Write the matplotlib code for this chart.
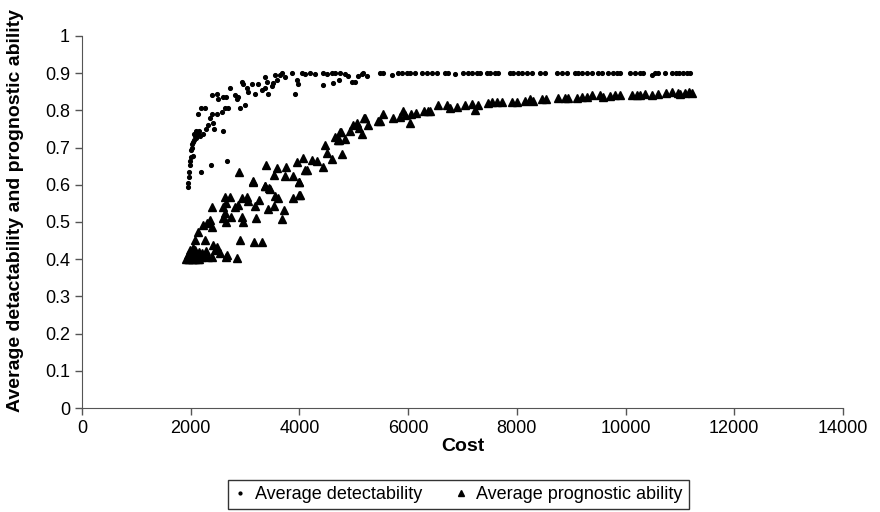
import numpy as np
import matplotlib
matplotlib.use('Agg')
import matplotlib.pyplot as plt
from matplotlib.ticker import FuncFormatter

plt.rcParams['font.family'] = ['Liberation Sans', 'DejaVu Sans']

# Average detectability (dots)
det_cost = [1950, 1960, 1970, 1975, 1985, 1990, 2000, 2010, 2020, 2030, 2036, 2040, 2060, 2080, 2100, 2130,
            2060, 2100, 2160, 2180, 2190, 2373, 2662, 2600, 2230, 2280, 2320, 2410, 2430, 2350, 2130, 2200,
            2260, 2390, 2480, 2580, 2630, 2690, 2390, 2480, 2500, 2590, 2660, 2720, 2810, 2870, 2850, 2910,
            3000, 2940, 2960, 3030, 3050, 3130, 3180, 3240, 3310, 3370, 3420, 3370, 3400, 3490, 3510, 3550,
            3590, 3640, 3680, 3730, 3860, 3920, 3950, 3970, 4041, 4102, 4194, 4286, 4428, 4439, 4501, 4593,
            4623, 4654, 4734, 4746, 4838, 4899, 4961, 5022, 5083, 5145, 5175, 5236, 5481, 5542, 5696, 5818,
            5880, 5972, 6033, 6126, 6249, 6341, 6433, 6525, 6678, 6739, 6862, 7015, 7107, 7169, 7261, 7322,
            7445, 7506, 7598, 7659, 7874, 7935, 8027, 8089, 8181, 8273, 8425, 8517, 8732, 8824, 8916, 9069,
            9130, 9192, 9284, 9376, 9498, 9560, 9682, 9774, 9836, 9897, 10081, 10173, 10265, 10326, 10480,
            10541, 10602, 10725, 10850, 10930, 10990, 11060, 11130, 11190]
det_value = [0.594, 0.605, 0.62, 0.634, 0.653, 0.665, 0.675, 0.693, 0.70, 0.71, 0.676, 0.715, 0.72, 0.73, 0.725, 0.74,
             0.735, 0.745, 0.745, 0.73, 0.634, 0.653, 0.664, 0.745, 0.735, 0.75, 0.76, 0.765, 0.75, 0.78, 0.79, 0.805,
             0.805, 0.79, 0.79, 0.795, 0.805, 0.805, 0.84, 0.845, 0.83, 0.835, 0.835, 0.86, 0.84, 0.835, 0.83, 0.805,
             0.815, 0.875, 0.87, 0.86, 0.85, 0.87, 0.845, 0.87, 0.855, 0.86, 0.845, 0.89, 0.875, 0.865, 0.873, 0.895,
             0.882, 0.895, 0.90, 0.89, 0.90, 0.845, 0.882, 0.87, 0.90, 0.897, 0.90, 0.897, 0.868, 0.90, 0.897, 0.90,
             0.873, 0.90, 0.882, 0.90, 0.897, 0.891, 0.877, 0.875, 0.891, 0.898, 0.90, 0.891, 0.90, 0.90, 0.895, 0.90,
             0.90, 0.90, 0.90, 0.90, 0.90, 0.90, 0.90, 0.90, 0.90, 0.90, 0.897, 0.90, 0.90, 0.90, 0.90, 0.90,
             0.90, 0.90, 0.90, 0.90, 0.90, 0.90, 0.90, 0.90, 0.90, 0.90, 0.90, 0.90, 0.90, 0.90, 0.90, 0.90,
             0.90, 0.90, 0.90, 0.90, 0.90, 0.90, 0.90, 0.90, 0.90, 0.90, 0.90, 0.90, 0.90, 0.90, 0.896,
             0.90, 0.90, 0.90, 0.90, 0.90, 0.90, 0.90, 0.90, 0.90]

# Average prognostic ability (triangles)
prog_cost = [1920, 1950, 1980, 2000, 2020, 2050, 2080, 2100, 2130, 2160, 2200, 1960, 2010, 2060, 2120, 2180,
             2230, 1990, 2040, 2090, 2150, 2280, 2210, 2320, 2390, 2410, 2450, 2480, 2540, 2660, 2670, 2850,
             2080, 2260, 2140, 2230, 2300, 2350, 2390, 2400, 2630, 2720, 2600, 2660, 2630, 2600, 2650, 2750,
             2810, 2880, 2940, 3030, 3060, 2940, 2970, 3180, 3260, 3210, 2910, 3160, 3310, 2894, 3140, 3385,
             3581, 3753, 3949, 4102, 3532, 3734, 3887, 3992, 3366, 3458, 3550, 3612, 3876, 3992, 3716, 3679,
             3415, 3538, 3370, 3440, 3150, 3990, 4060, 4225, 4317, 4133, 4440, 4501, 4593, 4777, 4654, 4716,
             4838, 4746, 4930, 4991, 4470, 4010, 4759, 4734, 5053, 5101, 5145, 5194, 5206, 5267, 5452, 5482,
             5543, 5715, 5850, 5911, 5942, 6034, 6052, 6144, 6291, 6370, 6402, 6555, 6708, 6770, 6893, 7046,
             7169, 7230, 7291, 7475, 7537, 7629, 7721, 7905, 7997, 8149, 8241, 8303, 8456, 8536, 8751, 8885,
             8946, 9100, 9192, 9284, 9376, 9529, 9590, 9713, 9805, 9897, 10112, 10215, 10265, 10357, 10480,
             10602, 10743, 10850, 10960, 11010, 11090, 11160, 11230]
prog_value = [0.40, 0.40, 0.40, 0.405, 0.40, 0.40, 0.40, 0.405, 0.40, 0.40, 0.405, 0.41, 0.415, 0.415, 0.415, 0.41,
              0.41, 0.425, 0.43, 0.425, 0.42, 0.422, 0.417, 0.407, 0.405, 0.438, 0.425, 0.433, 0.417, 0.407, 0.41, 0.403,
              0.452, 0.452, 0.474, 0.492, 0.497, 0.505, 0.487, 0.541, 0.567, 0.568, 0.541, 0.55, 0.523, 0.51, 0.50, 0.514,
              0.541, 0.546, 0.564, 0.568, 0.555, 0.514, 0.50, 0.543, 0.559, 0.51, 0.452, 0.447, 0.447, 0.633, 0.611, 0.653,
              0.644, 0.647, 0.662, 0.64, 0.626, 0.624, 0.624, 0.608, 0.597, 0.588, 0.57, 0.564, 0.564, 0.573, 0.532, 0.507,
              0.534, 0.543, 0.597, 0.591, 0.608, 0.608, 0.671, 0.667, 0.665, 0.64, 0.647, 0.685, 0.669, 0.683, 0.729, 0.72,
              0.722, 0.743, 0.745, 0.761, 0.707, 0.573, 0.741, 0.72, 0.765, 0.752, 0.737, 0.779, 0.779, 0.761, 0.77, 0.772,
              0.79, 0.778, 0.783, 0.799, 0.788, 0.765, 0.79, 0.794, 0.799, 0.799, 0.799, 0.815, 0.815, 0.806, 0.81, 0.815,
              0.817, 0.801, 0.815, 0.819, 0.823, 0.823, 0.823, 0.823, 0.823, 0.826, 0.83, 0.826, 0.83, 0.83, 0.832, 0.832,
              0.834, 0.832, 0.835, 0.837, 0.84, 0.841, 0.837, 0.839, 0.841, 0.841, 0.841, 0.84, 0.841, 0.844, 0.842,
              0.844, 0.846, 0.848, 0.846, 0.844, 0.846, 0.848, 0.846]

fig = plt.figure(figsize=(8.8, 5.12), dpi=100)
ax = fig.add_axes([0.093, 0.203, 0.865, 0.727])

ax.plot(det_cost, det_value, linestyle='none', marker='o', markersize=2.7,
        color='black', label='Average detectability')
ax.plot(prog_cost, prog_value, linestyle='none', marker='^', markersize=6.3,
        color='black', label='Average prognostic ability')

ax.set_xlim(0, 14000)
ax.set_ylim(0, 1)
ax.set_xticks(np.arange(0, 14001, 2000))
ax.set_yticks(np.arange(0, 1.01, 0.1))
ax.yaxis.set_major_formatter(FuncFormatter(lambda v, p: '%g' % round(v, 1)))
ax.tick_params(direction='out', length=5, width=1, labelsize=13, color='#555555')
for s in ['top', 'right']:
    ax.spines[s].set_visible(False)
for s in ['left', 'bottom']:
    ax.spines[s].set_color('#555555')

ax.set_xlabel('Cost', fontsize=14, fontweight='bold', labelpad=1)
ax.set_ylabel('Average detactability and prognostic ability', fontsize=14,
              fontweight='bold')
ax.yaxis.set_label_coords(-0.076, 0.532)

leg = fig.legend(loc='center', bbox_to_anchor=(0.521, 0.034), ncol=2, fontsize=13,
                 frameon=True, fancybox=False, edgecolor='black', markerscale=0.75,
                 handlelength=0.6, handletextpad=0.5, columnspacing=1.9, borderpad=0.35)
leg.get_frame().set_linewidth(1)

fig.savefig('out.png', dpi=100)
